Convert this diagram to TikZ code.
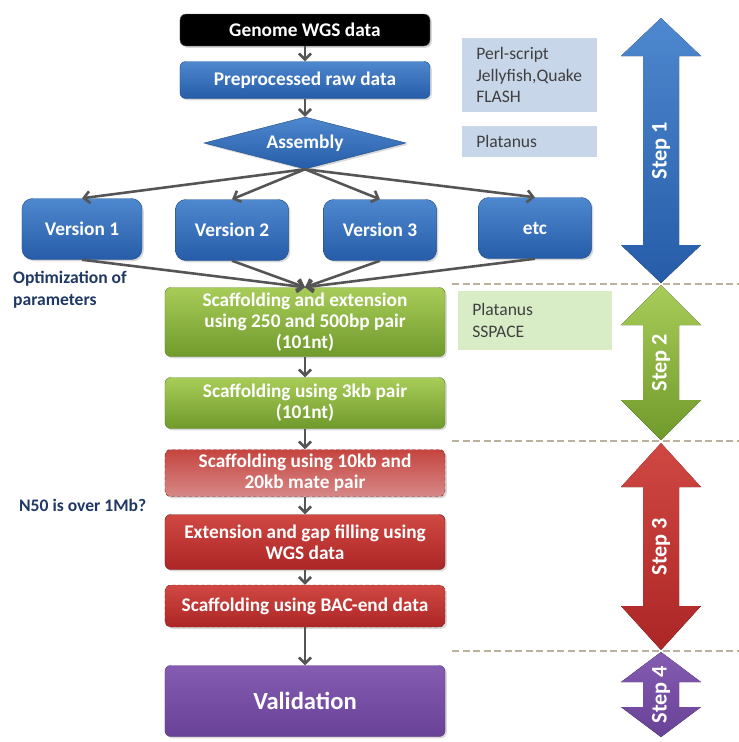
\documentclass[tikz,border=0pt]{standalone}
\usepackage{fontspec}
\setmainfont{Carlito}
\usetikzlibrary{arrows.meta, positioning, shapes.geometric, shadows}

\definecolor{bluetop}{RGB}{78,136,206}
\definecolor{bluebot}{RGB}{38,92,168}
\definecolor{blueline}{RGB}{40,82,140}
\definecolor{greentop}{RGB}{168,204,88}
\definecolor{greenbot}{RGB}{112,154,44}
\definecolor{greenline}{RGB}{105,140,45}
\definecolor{redtop}{RGB}{208,72,66}
\definecolor{redbot}{RGB}{172,38,38}
\definecolor{redline}{RGB}{120,40,40}
\definecolor{redpale}{RGB}{214,136,136}
\definecolor{purptop}{RGB}{132,92,178}
\definecolor{purpbot}{RGB}{104,66,150}
\definecolor{purpline}{RGB}{88,58,128}
\definecolor{sideblue}{RGB}{200,214,234}
\definecolor{sidegreen}{RGB}{216,236,198}
\definecolor{sidetext}{RGB}{64,64,64}
\definecolor{navytext}{RGB}{31,56,100}
\definecolor{arrowgray}{RGB}{85,85,85}
\definecolor{sepline}{RGB}{186,178,156}

% double arrow on the right: #1 name, #2 top y, #3 bottom y, #4 head length,
% #5 top colour, #6 bottom colour, #7 label
\newcommand{\steparrow}[7]{%
  \fill[top color=#5, bottom color=#6]
    (661,#2) -- (701,{#2+#4}) -- (679,{#2+#4}) -- (679,{#3-#4})
    -- (701,{#3-#4}) -- (661,#3) -- (621,{#3-#4}) -- (643,{#3-#4})
    -- (643,{#2+#4}) -- (621,{#2+#4}) -- cycle;
  \node[steplabel] (#1) at (661,{(#2+#3)/2}) {#7};}

\begin{document}
\begin{tikzpicture}[
    x=0.03cm, y=-0.03cm,
    font=\fontsize{15}{18}\selectfont,
    flow/.style={rounded corners=5pt, text=white, font=\fontsize{16.5}{18}\selectfont\bfseries,
      align=center, minimum width=8.4cm, inner sep=2pt,
      drop shadow={opacity=0.3, shadow xshift=1.5pt, shadow yshift=-1.5pt}},
    bluebox/.style={flow, draw=blueline, top color=bluetop, bottom color=bluebot},
    greenbox/.style={flow, draw=greenline, top color=greentop, bottom color=greenbot},
    redbox/.style={flow, draw=redline, top color=redtop, bottom color=redbot},
    version/.style={bluebox, rounded corners=9pt, minimum width=3.4cm, minimum height=1.83cm},
    side/.style={align=left, text=sidetext, anchor=north west,
      text width=3.21cm, inner xsep=12pt, inner ysep=6pt,
      font=\fontsize{15}{18.5}\selectfont},
    note/.style={text=navytext, font=\fontsize{15}{19}\selectfont\bfseries, align=left},
    steplabel/.style={rotate=90, text=white, font=\fontsize{19}{20}\selectfont\bfseries},
    conn/.style={draw=arrowgray, line width=2.2pt,
      -{Straight Barb[length=1.8mm, width=3.6mm, line width=2.2pt]}},
    sep/.style={draw=sepline, line width=1.6pt, dash pattern=on 6pt off 3pt}
  ]
  \useasboundingbox (0,0) rectangle (739,742);

  %--- top of the flow ----------------------------------------------------
  \node[flow, draw=black!60, fill=black, minimum width=7.5cm, minimum height=0.96cm]
    (genome) at (305,30) {Genome WGS data};
  \node[bluebox, minimum width=7.5cm, minimum height=1.11cm]
    (preproc) at (305,80) {Preprocessed raw data};
  \node[bluebox, diamond, aspect=3.9, inner sep=0pt, minimum width=6.06cm,
    minimum height=1.56cm, rounded corners=0pt] (assembly) at (305,143) {Assembly};

  %--- assembly versions --------------------------------------------------
  \node[version, minimum width=3.6cm] (ver1) at (82,229) {Version 1};
  \node[version] (ver2) at (232,230) {Version 2};
  \node[version] (ver3) at (380,230) {Version 3};
  \node[version] (etc) at (535,228) {etc};

  \node[note, anchor=west] (optim) at (9,290) {Optimization of\\parameters};

  %--- scaffolding --------------------------------------------------------
  \node[greenbox, minimum height=2.07cm] (scaf1) at (305,322)
    {Scaffolding and extension\\using 250 and 500bp pair\\(101nt)};
  \node[greenbox, minimum height=1.53cm] (scaf2) at (305,403)
    {Scaffolding using 3kb pair\\(101nt)};
  \node[redbox, top color=redtop!95!black, bottom color=redpale, densely dashed,
    minimum height=1.41cm] (mate) at (305,473)
    {Scaffolding using 10kb and\\20kb mate pair};
  \node[redbox, minimum height=1.65cm] (gapfill) at (305,542)
    {Extension and gap filling using\\WGS data};
  \node[redbox, densely dashed, minimum height=1.26cm] (bacend) at (305,606)
    {Scaffolding using BAC-end data};
  \node[flow, draw=purpline, top color=purptop, bottom color=purpbot,
    minimum height=2.13cm, font=\fontsize{21}{23}\selectfont\bfseries]
    (valid) at (305,701) {Validation};

  \node[note, anchor=west] (nfifty) at (15,505) {N50 is over 1Mb?};

  %--- tool boxes ---------------------------------------------------------
  \node[side, fill=sideblue, minimum height=2.22cm] (tools1) at (462,38)
    {Perl-script\\Jellyfish,Quake\\FLASH};
  \node[side, fill=sideblue, minimum height=0.93cm] (tools2) at (462,126)
    {Platanus};
  \node[side, fill=sidegreen, text width=3.78cm, minimum height=1.77cm] (tools3) at (458,291)
    {Platanus\\SSPACE};

  %--- connectors ---------------------------------------------------------
  \draw[conn] (genome) -- (preproc);
  \draw[conn] (preproc) -- (assembly);
  \foreach \v in {ver1, ver2, ver3, etc}
    \draw[conn] (assembly.south) -- (\v.north);
  \foreach \v in {ver1, ver2, ver3, etc}
    \draw[conn] (\v.south) -- (scaf1.north);
  \draw[conn] (scaf1) -- (scaf2);
  \draw[conn] (scaf2) -- (mate);
  \draw[conn] (mate) -- (gapfill);
  \draw[conn] (gapfill) -- (bacend);
  \draw[conn] (bacend) -- (valid);

  %--- step separators and arrows ----------------------------------------
  \foreach \y in {284, 441, 651}
    \draw[sep] (452,\y) -- (739,\y);

  \steparrow{step1}{18}{283}{38}{bluetop}{bluebot}{Step 1}
  \steparrow{step2}{285}{440}{40}{greentop}{greenbot}{Step 2}
  \steparrow{step3}{443}{650}{44}{redtop}{redbot}{Step 3}
  \steparrow{step4}{652}{737}{30}{purptop}{purpbot}{Step 4}
\end{tikzpicture}
\end{document}
